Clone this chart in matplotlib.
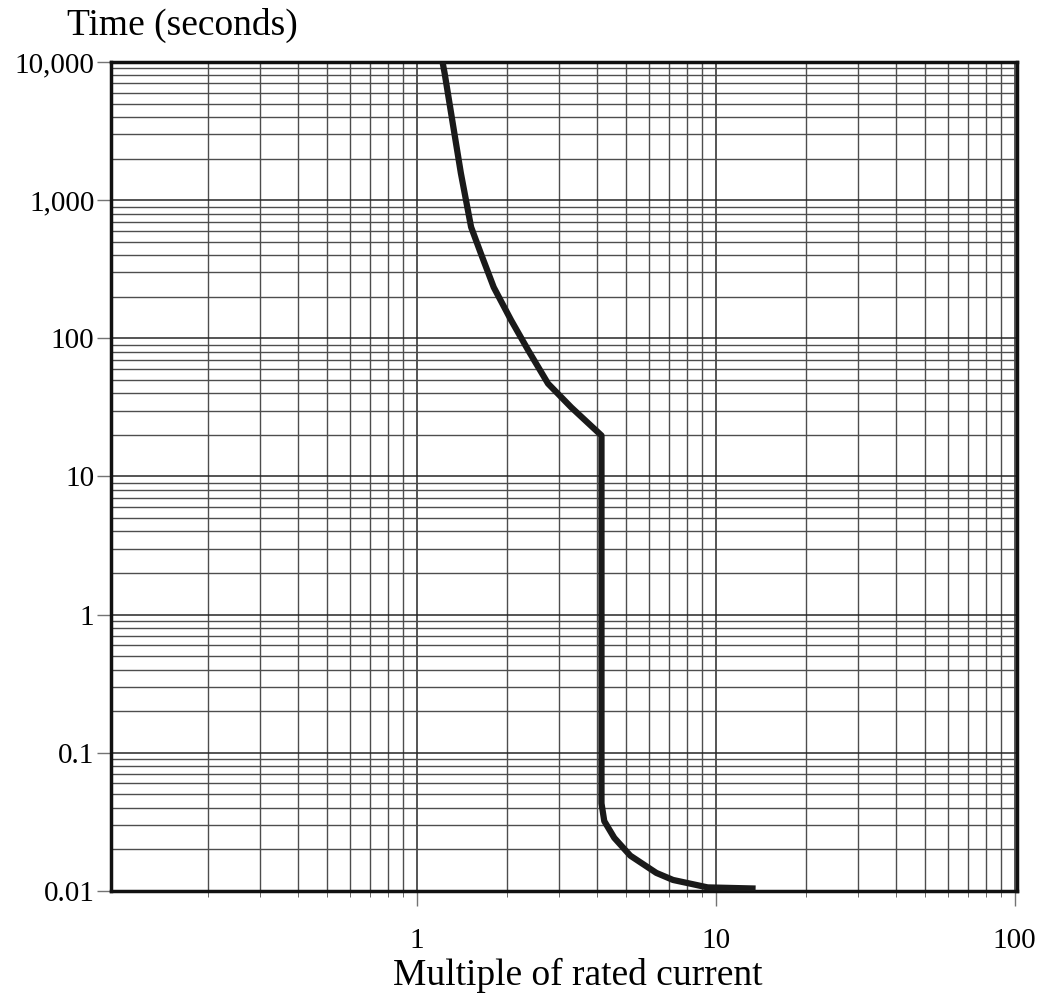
import matplotlib.pyplot as plt
import numpy as np

# trip curve (multiple of rated current, seconds)
current = [1.22, 1.24, 1.32, 1.405, 1.52, 1.64, 1.81, 2.07, 2.36, 2.75, 3.29, 4.15,
           4.15, 4.24, 4.58, 5.18, 6.33, 7.2, 9.4, 13.6]
seconds = [10000, 8300, 3600, 1570, 640, 410, 234, 135, 82, 47, 31.6, 19.8,
           0.043, 0.032, 0.0242, 0.018, 0.0135, 0.012, 0.0106, 0.0104]

y_ticks = [0.01, 0.1, 1, 10, 100, 1000, 10000]
y_labels = ['0.01', '0.1', '1', '10', '100', '1,000', '10,000']
x_ticks = [1, 10, 100]
x_labels = ['1', '10', '100']

plt.rcParams['font.family'] = ['Liberation Serif', 'DejaVu Serif']

fig = plt.figure(figsize=(10.38, 10.01), dpi=100)
ax = fig.add_axes([0.107, 0.110, 0.873, 0.828])

ax.set_xscale('log')
ax.set_yscale('log')
ax.set_xlim(0.095, 102)
ax.set_ylim(0.01, 10000)

# graph paper grid
ax.grid(True, which='major', color='0.15', linewidth=1.1)
ax.grid(True, which='minor', color='0.3', linewidth=1.0)

ax.plot(current, seconds, color='#1a1a1a', linewidth=4.5,
        solid_capstyle='butt', solid_joinstyle='round', zorder=5)

ax.set_yticks(y_ticks)
ax.set_yticklabels(y_labels)
ax.set_xticks(x_ticks)
ax.set_xticklabels(x_labels)
ax.tick_params(axis='both', which='major', labelsize=21, color='0.45', width=1)
ax.tick_params(axis='x', which='major', length=11, pad=16)
ax.tick_params(axis='y', which='major', length=10, pad=2)
ax.tick_params(axis='x', which='minor', length=4, color='0.3')
ax.tick_params(axis='y', which='minor', length=0)

for s in ax.spines.values():
    s.set_linewidth(2.5)
    s.set_color('#111111')

fig.text(67 / 1038, 1 - 35 / 1001, 'Time (seconds)', fontsize=27, ha='left', va='baseline')
fig.text(578 / 1038, 1 - 975 / 1001, 'Multiple of rated current', fontsize=27,
         ha='center', va='center')

plt.savefig('out.png', dpi=100)
